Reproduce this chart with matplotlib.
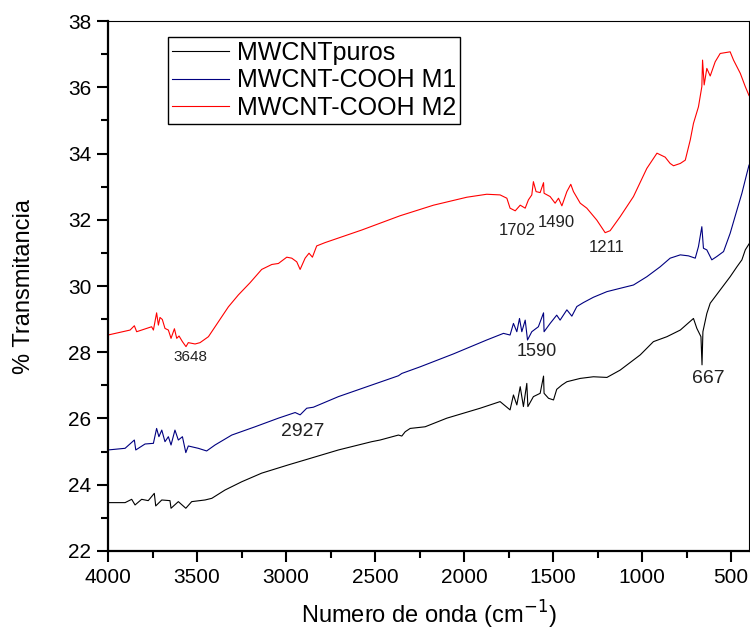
import matplotlib
matplotlib.use("Agg")
import matplotlib.pyplot as plt
from matplotlib.ticker import MultipleLocator

plt.rcParams['font.family'] = ['Liberation Sans', 'DejaVu Sans']

# ---- data (wavenumber cm-1, % transmittance) ----
puros_x = [4000, 3904, 3867, 3848, 3811, 3774, 3740, 3732, 3698, 3652, 3646, 3605, 3563, 3530,
           3455, 3417, 3343, 3249, 3137, 2987, 2893, 2706, 2519, 2472, 2369, 2350, 2331, 2303,
           2219, 2097, 1910, 1798, 1742, 1723, 1704, 1685, 1667, 1648, 1642, 1611, 1573, 1554,
           1551, 1526, 1498, 1480, 1451, 1423, 1348, 1274, 1198, 1124, 1011, 937, 861, 786,
           712, 693, 670, 664, 659, 637, 618, 562, 506, 468, 440, 421, 400]
puros_y = [23.46, 23.46, 23.56, 23.39, 23.56, 23.52, 23.74, 23.36, 23.54, 23.52, 23.29, 23.49, 23.29, 23.49,
           23.54, 23.59, 23.84, 24.09, 24.35, 24.60, 24.75, 25.05, 25.30, 25.35, 25.50, 25.47, 25.60, 25.70,
           25.75, 26.01, 26.31, 26.51, 26.26, 26.71, 26.41, 26.96, 26.36, 27.06, 26.36, 26.66, 26.76, 27.28,
           26.76, 26.61, 26.56, 26.88, 27.01, 27.11, 27.21, 27.26, 27.24, 27.46, 27.92, 28.32, 28.47, 28.67,
           29.02, 28.72, 28.47, 27.62, 28.62, 29.17, 29.48, 29.88, 30.28, 30.58, 30.79, 31.09, 31.27]

m1_x = [4000, 3904, 3852, 3844, 3792, 3745, 3727, 3714, 3698, 3680, 3661, 3646, 3624, 3605, 3582,
        3563, 3549, 3493, 3446, 3399, 3305, 3174, 3043, 2949, 2921, 2884, 2847, 2706, 2519, 2369,
        2350, 2247, 2060, 1873, 1779, 1742, 1723, 1704, 1689, 1676, 1657, 1644, 1620, 1583, 1554,
        1551, 1517, 1480, 1461, 1423, 1395, 1367, 1330, 1274, 1198, 1124, 1049, 974, 899, 843, 786,
        740, 702, 684, 665, 656, 637, 609, 581, 543, 506, 468, 440, 412, 400]
m1_y = [25.05, 25.10, 25.35, 25.05, 25.23, 25.25, 25.70, 25.45, 25.65, 25.30, 25.45, 25.20, 25.65, 25.35, 25.45,
        24.97, 25.17, 25.10, 25.02, 25.20, 25.50, 25.75, 26.01, 26.18, 26.11, 26.31, 26.34, 26.66, 27.01, 27.29,
        27.36, 27.56, 27.95, 28.37, 28.57, 28.52, 28.87, 28.62, 29.02, 28.62, 28.97, 28.37, 28.62, 28.77, 29.19,
        28.62, 28.87, 29.12, 28.97, 29.28, 29.09, 29.38, 29.50, 29.66, 29.83, 29.93, 30.03, 30.28, 30.58, 30.84, 30.94,
        30.91, 30.84, 31.19, 31.79, 31.14, 31.09, 30.79, 30.89, 31.04, 31.59, 32.29, 32.80, 33.40, 33.65]

m2_x = [4000, 3876, 3852, 3839, 3755, 3745, 3727, 3717, 3708, 3695, 3680, 3661, 3646, 3627, 3614,
        3601, 3582, 3562, 3549, 3511, 3483, 3436, 3380, 3324, 3268, 3202, 3137, 3080, 3043, 2996,
        2968, 2940, 2921, 2893, 2871, 2852, 2828, 2781, 2575, 2360, 2172, 1985, 1873, 1798, 1760,
        1742, 1713, 1685, 1657, 1639, 1620, 1611, 1596, 1573, 1554, 1551, 1517, 1489, 1470, 1451,
        1423, 1401, 1386, 1348, 1311, 1255, 1208, 1180, 1124, 1049, 974, 917, 871, 843, 824, 786,
        758, 730, 712, 684, 665, 661, 652, 637, 618, 590, 562, 506, 487, 449, 421, 400]
m2_y = [28.52, 28.67, 28.80, 28.62, 28.77, 28.67, 29.19, 28.82, 29.05, 28.99, 28.72, 28.67, 28.42, 28.71, 28.42,
        28.49, 28.32, 28.17, 28.29, 28.25, 28.29, 28.47, 28.92, 29.37, 29.73, 30.10, 30.50, 30.65, 30.68, 30.87,
        30.84, 30.73, 30.50, 30.84, 30.99, 30.87, 31.21, 31.31, 31.69, 32.12, 32.44, 32.68, 32.77, 32.75, 32.65,
        32.35, 32.27, 32.44, 32.35, 32.60, 32.75, 33.15, 32.85, 32.82, 33.12, 32.80, 32.70, 32.50, 32.65, 32.42,
        32.85, 33.07, 32.85, 32.50, 32.35, 31.99, 31.61, 31.67, 32.09, 32.70, 33.55, 34.01, 33.89, 33.70, 33.63, 33.70,
        33.80, 34.41, 34.91, 35.41, 36.02, 36.82, 36.07, 36.57, 36.34, 36.77, 37.02, 37.07, 36.82, 36.42, 36.02, 35.75]

labels = ['MWCNTpuros', 'MWCNT-COOH M1', 'MWCNT-COOH M2']

# annotations: (text, x, y, fontsize)
ann_text = ['3648', '2927', '1702', '1490', '1211', '1590', '667']
ann_x = [3539, 2904, 1704, 1480, 1198, 1592, 627]
ann_y = [27.87, 25.60, 31.69, 31.91, 31.17, 28.02, 27.21]
ann_size = [11, 14, 12, 12, 12, 13, 14]

fig = plt.figure(figsize=(7.5, 6.31), dpi=100)
ax = fig.add_axes([0.144, 0.1268, 0.8547, 0.8399])

ax.plot(puros_x, puros_y, color='black', lw=0.8, label=labels[0])
ax.plot(m1_x, m1_y, color='#000080', lw=0.8, label=labels[1])
ax.plot(m2_x, m2_y, color='#ff0000', lw=0.8, label=labels[2])

for t, x, y, s in zip(ann_text, ann_x, ann_y, ann_size):
    ax.text(x, y, t, fontsize=s, ha='center', va='center', color='#222222')

ax.set_xlim(4000, 400)
ax.set_ylim(22, 38)
ax.xaxis.set_major_locator(MultipleLocator(500))
ax.xaxis.set_minor_locator(MultipleLocator(250))
ax.yaxis.set_major_locator(MultipleLocator(2))
ax.yaxis.set_minor_locator(MultipleLocator(1))
ax.tick_params(which='major', direction='out', length=8, width=1.5, labelsize=15, pad=4)
ax.tick_params(which='minor', direction='out', length=5, width=1.5)
ax.tick_params(top=False, right=False, which='both')
for s in ['left', 'bottom']:
    ax.spines[s].set_linewidth(1.6)
for s in ['top', 'right']:
    ax.spines[s].set_linewidth(0.8)

ax.set_xlabel('Numero de onda (cm$^{-1}$)', fontsize=17, labelpad=9)
ax.set_ylabel('% Transmitancia', fontsize=17, labelpad=24)

leg = ax.legend(loc='upper left', bbox_to_anchor=(0.0936, 0.970), fontsize=18,
                frameon=True, fancybox=False, edgecolor='black', framealpha=1,
                handlelength=2.3, handletextpad=0.3, labelspacing=0.15, borderpad=0.15,
                borderaxespad=0)
leg.get_frame().set_linewidth(1.0)

fig.savefig('out.png', dpi=100)
